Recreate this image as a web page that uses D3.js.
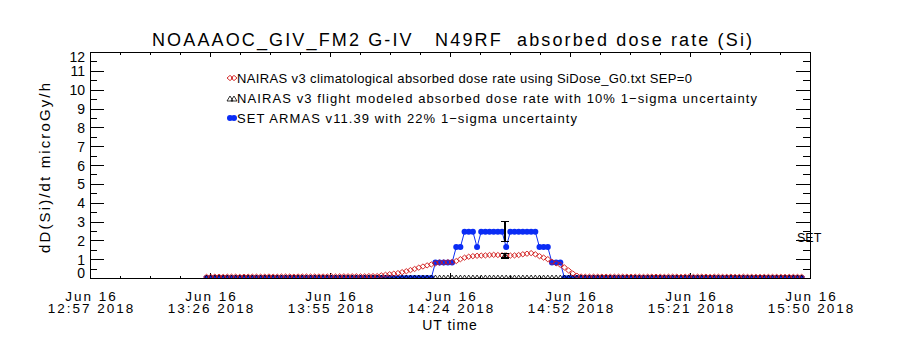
<!DOCTYPE html>
<html><head><meta charset="utf-8">
<script src="https://cdn.jsdelivr.net/npm/d3@7"></script>
<style>body{margin:0;background:#fff} text{font-family:"Liberation Sans",Arial,sans-serif;fill:#000}</style>
</head><body><svg id="c" width="900" height="350"></svg>
<script>
// ---------------- data ----------------
const titleText = "NOAAAOC_GIV_FM2 G-IV   N49RF  absorbed dose rate (Si)";
const yLabelText = "dD(Si)/dt microGy/h";
const xLabelText = "UT time";
const legendLabels = [
  "NAIRAS v3 climatological absorbed dose rate using SiDose_G0.txt SEP=0",
  "NAIRAS v3 flight modeled absorbed dose rate with 10% 1\u2212sigma uncertainty",
  "SET ARMAS v11.39 with 22% 1\u2212sigma uncertainty"
];
const sideLabel = "SET";
const xTickDate = "Jun 16";
const xTickTimes = ["12:57 2018","13:26 2018","13:55 2018","14:24 2018","14:52 2018","15:21 2018","15:50 2018"];
const yTickLabels = [0,1,2,3,4,5,6,7,8,9,10,11,12];
const xDomain = ["2018-06-16T12:57:30Z","2018-06-16T15:50:30Z"];
const seriesStart = "2018-06-16T13:25:30Z";   // one value per minute
const seriesStepMin = 1;

// NAIRAS v3 climatological (red diamonds)
const climatological = [
  0.06,0.06,0.07,0.07,0.06,0.07,0.07,0.07,0.06,0.07,
  0.07,0.07,0.07,0.07,0.07,0.08,0.07,0.07,0.08,0.08,
  0.08,0.07,0.08,0.08,0.08,0.08,0.08,0.08,0.08,0.08,
  0.09,0.08,0.09,0.09,0.09,0.09,0.09,0.09,0.09,0.10,
  0.10,
  0.10,0.14,0.17,0.20,0.23,0.26,0.31,0.36,0.42,0.48,
  0.55,0.61,0.67,0.72,0.78,0.82,0.83,0.84,0.85,0.90,
  1.00,1.08,1.13,1.16,1.18,1.19,1.20,1.22,1.23,1.22,
  1.21,1.20,1.19,1.20,1.22,1.26,1.29,1.32,1.26,1.16,
  1.08,1.00,0.86,0.78,0.70,0.56,0.40,0.24,0.12,0.08,
  0.07,0.07,0.07,0.07,0.07,0.07,0.07,0.07,0.07,0.07,
  0.07,0.07,0.07,0.07,0.06,0.07,0.07,0.07,0.07,0.06,
  0.07,0.07,0.07,0.06,0.07,0.07,0.06,0.07,0.07,0.07,
  0.06,0.07,0.07,0.06,0.06,0.07,0.06,0.06,0.07,0.06,
  0.06,0.06,0.06,0.06,0.06,0.06,0.06,0.06,0.06,0.06,
  0.06,0.06,0.06
];
// NAIRAS v3 flight modeled (black triangles)
const flightModeled = [
  0,0,0,0,0,0,0,0,0,0, 0,0,0,0,0,0,0,0,0,0,
  0,0,0,0,0,0,0,0,0,0, 0,0,0,0,0,0,0,0,0,0,
  0,0,0,0,0,0,0,0,0,0, 0,0,0,0,0,0,0,0,0,0,
  0,0,0,0,0,0,0,0,0,0, 0,0,0,0,0,0,0,0,0,0,
  0,0,0,0,0,0,0,0,0,0, 0,0,0,0,0,0,0,0,0,0,
  0,0,0,0,0,0,0,0,0,0, 0,0,0,0,0,0,0,0,0,0,
  0,0,0,0,0,0,0,0,0,0, 0,0,0,0,0,0,0,0,0,0,
  0,0,0,0
];
// SET ARMAS v11.39 (blue)
const armas = [
  0,0,0,0,0,0,0,0,0,0, 0,0,0,0,0,0,0,0,0,0,
  0,0,0,0,0,0,0,0,0,0, 0,0,0,0,0,0,0,0,0,0,
  0,0,0,0,0,0,0,0,0,0, 0,0,0,0,0,
  0.82,0.82,0.82,0.82,0.82,
  1.64,1.64,
  2.46,2.46,2.46,
  1.64,
  2.46,2.46,2.46,2.46,2.46,2.46,
  1.64,
  2.46,2.46,2.46,2.46,2.46,2.46,2.46,
  1.64,1.64,1.64,
  0.82,0.82,0.82,
  0,0,0,0,0,0,0,0,0,0, 0,0,0,0,0,0,0,0,0,0,
  0,0,0,0,0,0,0,0,0,0, 0,0,0,0,0,0,0,0,0,0,
  0,0,0,0,0,0,0,0,0,0, 0,0,0,0,0,0,0,0
];
// mean values with 1-sigma error bars
const errTime = "2018-06-16T14:37:12Z";
const errMeans = [2.46, 1.18];
const errSigmaFrac = [0.22, 0.10];

// ---------------- chart ----------------
const svg = d3.select("#c");
const L = 90, R = 810, T = 52, B = 278;
const x = d3.scaleUtc().domain(xDomain.map(d => new Date(d))).range([L, R]);
const y = d3.scaleLinear().domain([0, 12]).range([B, T]);
const t0 = +new Date(seriesStart);
const timeAt = i => new Date(t0 + i * seriesStepMin * 60000);

svg.append("defs").append("clipPath").attr("id", "clip")
  .append("rect").attr("x", L).attr("y", T).attr("width", R - L).attr("height", B - T);

const [d0, d1] = x.domain();
const xMajor = d3.range(7).map(k => new Date(+d0 + k * (d1 - d0) / 6));
const xMinor = d3.range(25).map(k => new Date(+d0 + k * (d1 - d0) / 24)).filter((d, k) => k % 4 !== 0);
const yMinor = d3.range(0.5, 12, 1);

function styleAxis(g) {
  g.attr("font-size", null).attr("font-family", null);
  g.selectAll("path.domain").attr("stroke", "#000").attr("stroke-width", 1).attr("shape-rendering", "crispEdges");
  g.selectAll(".tick line").attr("stroke", "#000").attr("shape-rendering", "crispEdges");
}

// left axis
const gl = svg.append("g").attr("transform", `translate(${L},0)`)
  .call(d3.axisLeft(y).tickValues(yTickLabels).tickSize(-14).tickSizeOuter(0).tickPadding(5).tickFormat(d => d));
styleAxis(gl);
gl.selectAll(".tick text").attr("font-size", 14).attr("dy", "0.36em")
  .attr("transform", d => d === 0 ? "translate(0,-6)" : d === 12 ? "translate(0,4)" : null);
svg.append("g").attr("transform", `translate(${L},0)`)
  .call(d3.axisLeft(y).tickValues(yMinor).tickSize(-7).tickSizeOuter(0).tickFormat("")).call(styleAxis);
// right axis
svg.append("g").attr("transform", `translate(${R},0)`)
  .call(d3.axisRight(y).tickValues(yTickLabels).tickSize(-14).tickSizeOuter(0).tickFormat("")).call(styleAxis);
svg.append("g").attr("transform", `translate(${R},0)`)
  .call(d3.axisRight(y).tickValues(yMinor).tickSize(-7).tickSizeOuter(0).tickFormat("")).call(styleAxis);
// top axis
svg.append("g").attr("transform", `translate(0,${T})`)
  .call(d3.axisTop(x).tickValues(xMajor).tickSize(-5).tickSizeOuter(0).tickFormat("")).call(styleAxis);
svg.append("g").attr("transform", `translate(0,${T})`)
  .call(d3.axisTop(x).tickValues(xMinor).tickSize(-2.5).tickSizeOuter(0).tickFormat("")).call(styleAxis);
// bottom axis
const gb = svg.append("g").attr("transform", `translate(0,${B})`)
  .call(d3.axisBottom(x).tickValues(xMajor).tickSize(-5).tickSizeOuter(0).tickFormat("")).call(styleAxis);
svg.append("g").attr("transform", `translate(0,${B})`)
  .call(d3.axisBottom(x).tickValues(xMinor).tickSize(-2.5).tickSizeOuter(0).tickFormat("")).call(styleAxis);
gb.selectAll(".tick text").remove();
gb.selectAll(".tick").each(function (d, i) {
  const t = d3.select(this).append("text").attr("text-anchor", "middle").attr("font-size", 13.5)
    .attr("letter-spacing", 2);
  t.append("tspan").attr("x", 1).attr("y", 23).text(xTickDate);
  t.append("tspan").attr("x", 1).attr("y", 35).text(xTickTimes[i]);
});

// axis titles
svg.append("text").attr("x", (L + R) / 2).attr("y", 329.5).attr("text-anchor", "middle")
  .attr("font-size", 14).attr("letter-spacing", 1).text(xLabelText);
svg.append("text").attr("transform", "translate(50,168) rotate(-90)").attr("text-anchor", "middle")
  .attr("font-size", 15).attr("textLength", 170).text(yLabelText);
svg.append("text").attr("x", 152).attr("y", 46).attr("font-size", 18)
  .style("white-space", "pre").attr("textLength", 600).text(titleText);

// marks
const plot = svg.append("g").attr("clip-path", "url(#clip)");
const blue = "#0a2cf5", red = "#d01818";
const armasPts = armas.map((v, i) => [timeAt(i), v]);
plot.append("path").datum(armasPts)
  .attr("fill", "none").attr("stroke", blue).attr("stroke-width", 1)
  .attr("d", d3.line().x(d => x(d[0])).y(d => y(d[1])));
plot.append("g").selectAll("circle").data(armasPts).join("circle")
  .attr("cx", d => x(d[0])).attr("cy", d => y(d[1])).attr("r", 3).attr("fill", blue);

const triPath = "M0,-3L3,2L-3,2Z";
const diaPath = "M0,-2.6L3,0L0,2.6L-3,0Z";
plot.append("g").selectAll("path").data(flightModeled.map((v, i) => [timeAt(i), v])).join("path")
  .attr("d", triPath).attr("transform", d => `translate(${x(d[0])},${y(d[1])})`)
  .attr("fill", "none").attr("stroke", "#000").attr("stroke-width", 0.8);

plot.append("g").selectAll("path").data(climatological.map((v, i) => [timeAt(i), v])).join("path")
  .attr("d", diaPath).attr("transform", d => `translate(${x(d[0])},${y(d[1])})`)
  .attr("fill", "none").attr("stroke", red).attr("stroke-width", 0.9);

// error bars
const ex = x(new Date(errTime));
errMeans.forEach((m, k) => {
  const lo = y(m * (1 - errSigmaFrac[k])), hi = y(m * (1 + errSigmaFrac[k]));
  const g = svg.append("g").attr("stroke", "#000").attr("stroke-width", 1.2).attr("shape-rendering", "crispEdges");
  g.append("line").attr("x1", ex).attr("x2", ex).attr("y1", lo).attr("y2", hi);
  g.append("line").attr("x1", ex - 4).attr("x2", ex + 4).attr("y1", lo).attr("y2", lo);
  g.append("line").attr("x1", ex - 4).attr("x2", ex + 4).attr("y1", hi).attr("y2", hi);
});
svg.append("path").attr("d", triPath).attr("transform", `translate(${ex},${y(errMeans[1])})`)
  .attr("fill", "none").attr("stroke", "#000").attr("stroke-width", 0.8);

// side label
svg.append("text").attr("x", 797).attr("y", 242).attr("font-size", 12.5).text(sideLabel);

// legend
const legY = [83, 103, 123];
const legLen = [455, 520, 340];
legendLabels.forEach((s, i) => {
  svg.append("text").attr("x", 237).attr("y", legY[i]).attr("font-size", 13)
    .attr("textLength", legLen[i]).text(s);
});
const lg = svg.append("g");
[230, 234].forEach(cx => {
  lg.append("path").attr("d", diaPath).attr("transform", `translate(${cx},${legY[0] - 5})`)
    .attr("fill", "none").attr("stroke", red).attr("stroke-width", 0.9);
  lg.append("path").attr("d", triPath).attr("transform", `translate(${cx},${legY[1] - 4})`)
    .attr("fill", "none").attr("stroke", "#000").attr("stroke-width", 0.8);
  lg.append("circle").attr("cx", cx).attr("cy", legY[2] - 5).attr("r", 3).attr("fill", blue);
});
lg.append("line").attr("x1", 230).attr("x2", 234).attr("y1", legY[2] - 5).attr("y2", legY[2] - 5)
  .attr("stroke", blue);
</script></body></html>
